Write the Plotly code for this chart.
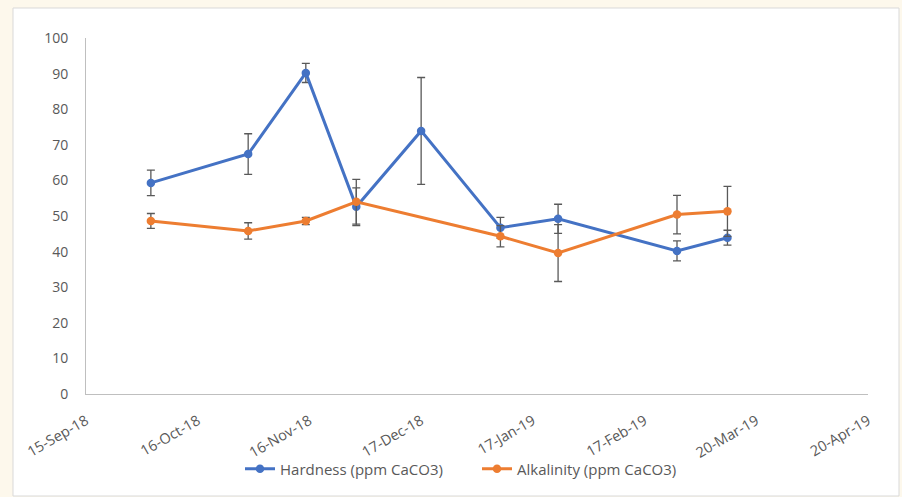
import plotly.graph_objects as go

# ---- data ----
dates = ["2018-10-03", "2018-10-30", "2018-11-15", "2018-11-29", "2018-12-17",
         "2019-01-08", "2019-01-24", "2019-02-26", "2019-03-12"]
hardness = [59.3, 67.4, 90.2, 52.6, 73.9, 46.7, 49.2, 40.2, 43.9]
hardness_err = [3.6, 5.7, 2.7, 5.3, 15.0, 2.9, 4.1, 2.8, 2.1]
alkalinity = [48.6, 45.8, 48.6, 54.0, None, 44.3, 39.6, 50.4, 51.3]
alkalinity_err = [2.1, 2.3, 1.0, 6.3, 0.0, 3.0, 8.0, 5.4, 7.0]

tick_dates = ["2018-09-15", "2018-10-16", "2018-11-16", "2018-12-17",
              "2019-01-17", "2019-02-17", "2019-03-20", "2019-04-20"]
tick_labels = ["15-Sep-18", "16-Oct-18", "16-Nov-18", "17-Dec-18",
               "17-Jan-19", "17-Feb-19", "20-Mar-19", "20-Apr-19"]
y_ticks = list(range(0, 101, 10))

BLUE = "#4472C4"
ORANGE = "#ED7D31"
GREY_TXT = "#595959"
ERR = "#595959"
FONT = "Open Sans"
CREAM = "#FDF8EC"

fig = go.Figure()
fig.add_trace(go.Scatter(
    x=dates, y=hardness, name="Hardness (ppm CaCO3)", mode="lines+markers",
    line=dict(color=BLUE, width=3), marker=dict(color=BLUE, size=8.5),
    error_y=dict(type="data", array=hardness_err, visible=True,
                 color=ERR, thickness=1.3, width=4),
))
fig.add_trace(go.Scatter(
    x=dates, y=alkalinity, name="Alkalinity (ppm CaCO3)", mode="lines+markers",
    connectgaps=True,
    line=dict(color=ORANGE, width=3), marker=dict(color=ORANGE, size=8.5),
    error_y=dict(type="data", array=alkalinity_err, visible=True,
                 color=ERR, thickness=1.3, width=4),
))

# plot area geometry (pixels)
W, H = 902, 497
L, R, T, B = 86, 34, 38, 103
pw = W - L - R
ph = H - T - B

def px(xp):
    return (xp - L) / pw

def py(yp):
    return (H - B - yp) / ph

fig.add_shape(type="rect", xref="paper", yref="paper",
              x0=px(13), x1=px(899), y0=py(496), y1=py(8),
              fillcolor="white", line=dict(color="#D9D9D9", width=1),
              layer="below")

fig.update_layout(
    width=W, height=H,
    margin=dict(l=L, r=R, t=T, b=B),
    paper_bgcolor=CREAM,
    plot_bgcolor="rgba(0,0,0,0)",
    font=dict(family=FONT, size=14, color=GREY_TXT),
    showlegend=True,
    legend=dict(orientation="h", x=0.5, xanchor="center", y=py(469),
                yanchor="middle", font=dict(family=FONT, size=15, color=GREY_TXT),
                bgcolor="rgba(0,0,0,0)", entrywidth=192),
    xaxis=dict(type="date", range=[tick_dates[0], tick_dates[-1]],
               tickvals=tick_dates, ticktext=tick_labels, tickangle=-30,
               showgrid=False, zeroline=False, showline=True,
               linecolor="#BFBFBF", linewidth=1, ticks="",
               ticklabelstandoff=12,
               tickfont=dict(family=FONT, size=14.5, color=GREY_TXT)),
    yaxis=dict(range=[0, 100], tickvals=y_ticks, showgrid=False,
               zeroline=False, showline=True, linecolor="#BFBFBF",
               linewidth=1, ticks="", ticklen=0, ticklabelstandoff=14,
               tickfont=dict(family=FONT, size=14, color=GREY_TXT)),
)

fig.write_html(
    "out.html",
    config={"displayModeBar": False},
    post_script="document.body.style.margin='0';document.body.style.overflow='hidden';"
                "document.body.style.background='" + CREAM + "';",
)
